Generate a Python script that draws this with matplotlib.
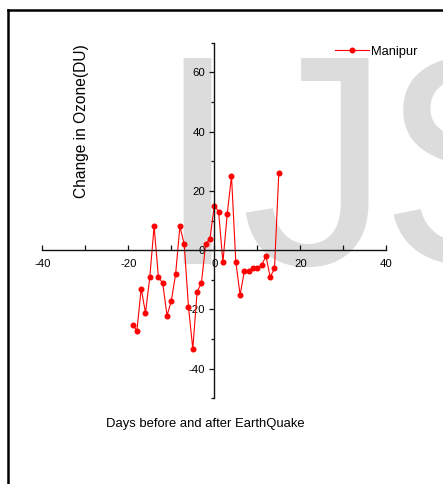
import matplotlib.pyplot as plt
from matplotlib.lines import Line2D
from matplotlib.ticker import MultipleLocator
from matplotlib.textpath import TextPath
from matplotlib.font_manager import FontProperties
import numpy as np

plt.rcParams['axes.unicode_minus'] = False

# Ozone change around the earthquake day
days = [-19, -18, -17, -16, -15, -14, -13, -12, -11, -10, -9, -8, -7, -6, -5,
        -4, -3, -2, -1, 0, 1, 2, 3, 4, 5, 6, 7, 8, 9, 10, 11, 12, 13, 14, 15]
ozone = [-25.2, -27.2, -13.0, -21.2, -9.1, 8.0, -9.1, -11.1, -22.1, -17.2,
         -8.1, 8.0, 2.0, -19.2, -33.3, -14.1, -11.1, 2.0, 3.9, 15.0,
         13.0, -4.1, 12.1, 25.0, -4.0, -15.1, -7.0, -7.0, -6.1, -6.1,
         -5.1, -2.0, -9.1, -6.1, 26.0]
series_name = 'Manipur'

W, H = 443, 484
font = ['Liberation Sans', 'DejaVu Sans']

fig = plt.figure(figsize=(W / 100, H / 100), dpi=100)
ax = fig.add_axes([42.3 / W, 1 - 398.3 / H, 344 / W, 355.6 / H])
ax.patch.set_visible(False)

# watermark "IJS" behind the plot, letters placed by their ink left edge
fp = FontProperties(family=font)
i_ext = TextPath((0, 0), 'I', size=1, prop=fp).get_extents()
em_px = 206 / i_ext.height
wm_size = em_px * 72 / 100
for letter, ink_left in [('I', 183), ('J', 245), ('S', 393)]:
    x0 = TextPath((0, 0), letter, size=1, prop=fp).get_extents().x0
    fig.text((ink_left - x0 * em_px) / W, 1 - 264 / H, letter,
             fontsize=wm_size, family=font, color='#dcdcdc',
             ha='left', va='baseline', zorder=-1)

# frame around the figure (only left and top edges are visible)
fig.add_artist(Line2D([8 / W, 8 / W], [0, 1 - 10 / H], color='black', lw=1.8,
                      transform=fig.transFigure))
fig.add_artist(Line2D([8 / W, 1.05], [1 - 10 / H, 1 - 10 / H], color='black',
                      lw=1.8, transform=fig.transFigure))

ax.plot(days, ozone, color='red', lw=0.8, marker='o', markersize=3.3,
        label=series_name)

ax.set_xlim(-40, 40)
ax.set_ylim(-50, 70)
ax.spines['left'].set_position(('data', 0))
ax.spines['bottom'].set_position(('data', 0))
ax.spines['top'].set_visible(False)
ax.spines['right'].set_visible(False)
for s in ('left', 'bottom'):
    ax.spines[s].set_linewidth(1.0)
    ax.spines[s].set_color('#111111')

ax.xaxis.set_major_locator(MultipleLocator(20))
ax.xaxis.set_minor_locator(MultipleLocator(10))
ax.yaxis.set_major_locator(MultipleLocator(20))
ax.yaxis.set_minor_locator(MultipleLocator(10))
ax.tick_params(axis='x', which='both', direction='in', length=3.5, width=0.9,
               pad=6.5, labelsize=8.2, color='#111111')
ax.tick_params(axis='y', which='major', direction='out', length=3.5, width=0.9,
               pad=3, labelsize=8.2, color='#111111')
ax.tick_params(axis='y', which='minor', direction='out', length=2.2, width=0.9,
               color='#111111')
for lab in ax.get_xticklabels() + ax.get_yticklabels():
    lab.set_family(font)

leg = ax.legend(loc='center left', bbox_to_anchor=(335 / W, 1 - 51.7 / H),
                bbox_transform=fig.transFigure, frameon=False, borderpad=0,
                borderaxespad=0, handlelength=2.6, handletextpad=0.2,
                prop={'family': font, 'size': 9.3})

fig.text(81.7 / W, 1 - 121 / H, 'Change in Ozone(DU)', rotation=90,
         fontsize=11.2, family=font, ha='center', va='center')
fig.text(205 / W, 1 - 424 / H, 'Days before and after EarthQuake',
         fontsize=9.4, family=font, ha='center', va='center')

fig.savefig('out.png', dpi=100)
